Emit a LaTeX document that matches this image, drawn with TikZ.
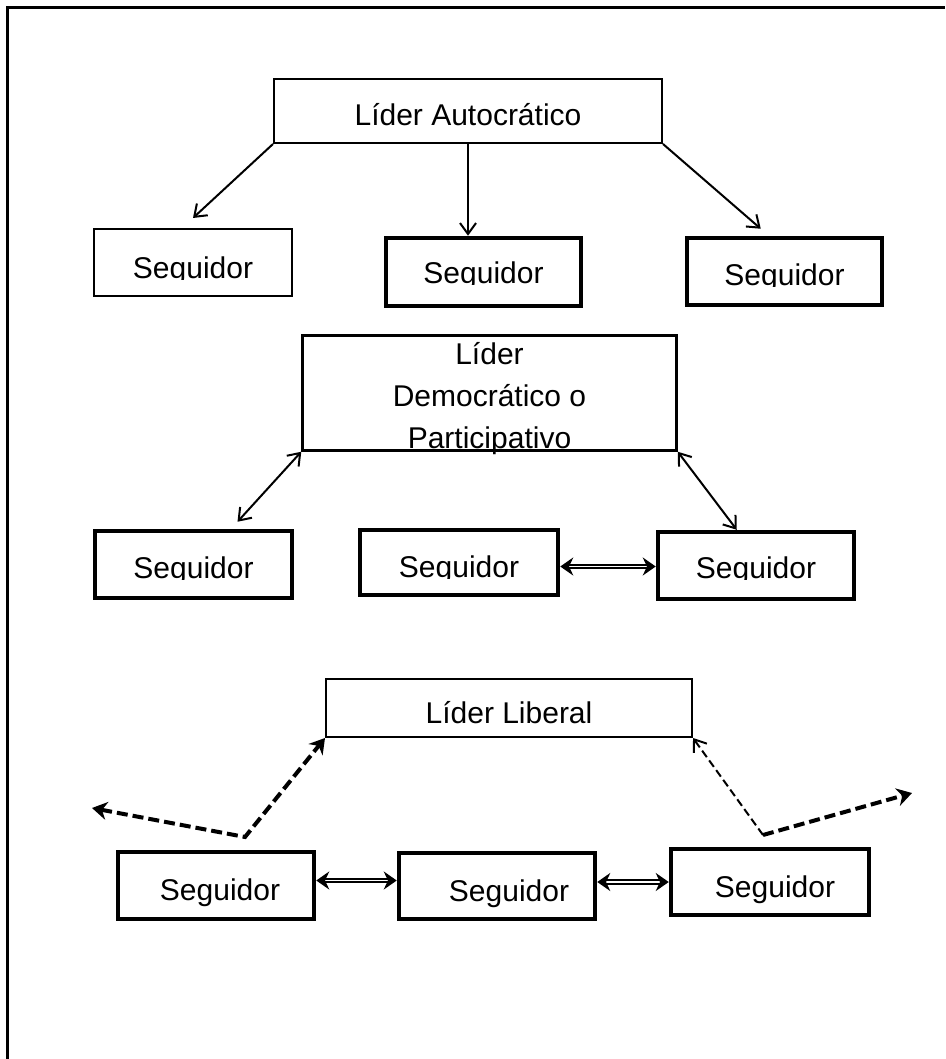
\documentclass[tikz,border=0pt]{standalone}
\usepackage{fontspec}
\setmainfont{Liberation Sans}
\usetikzlibrary{arrows.meta}
\newcommand\cutdesc[1]{\fill[white] ([xshift=-63pt,yshift=-1pt]#1.base) rectangle ([xshift=63pt,yshift=-9pt]#1.base);}
\begin{document}
\begin{tikzpicture}[x=1pt,y=-1pt,
  font=\fontsize{30}{42}\selectfont,
  box/.style={draw, rectangle, inner sep=0pt, align=center, text depth=0pt},
  lower/.style={text height=#1},
  thinbox/.style={box, line width=2pt},
  thickbox/.style={box, line width=4.5pt},
  frameline/.style={line width=3pt},
  onearrow/.style={line width=2pt, -{Straight Barb[length=11pt,width=16pt,line width=2pt]}},
  twoarrow/.style={line width=2pt, {Straight Barb[length=11pt,width=16pt,line width=2pt]}-{Straight Barb[length=11pt,width=16pt,line width=2pt]}},
  linkarrow/.style={line width=2pt, double=white, double distance=1.6pt, {Stealth[length=13pt,width=18pt]}-{Stealth[length=13pt,width=18pt]}},
  dthick/.style={line width=4pt, dash pattern=on 11pt off 5pt},
  dthin/.style={line width=2pt, dash pattern=on 8pt off 4pt},
  ]
\useasboundingbox (0,0) rectangle (945,1059);
\fill[white] (0,0) rectangle (945,1059);
% frame (only left and top sides are visible)
\draw[frameline] (7,1059) -- (7,8) -- (945,8);

% --- Autocratic leader ---
\node[thinbox, lower=29.5pt, minimum width=388pt, minimum height=64pt] (A) at (468,111) {Líder Autocrático};
\node[thinbox, lower=32.5pt, minimum width=198pt, minimum height=67pt] (s1) at (193,262.5) {Seguidor};
\node[thickbox, lower=23.5pt, minimum width=195pt, minimum height=68pt] (s2) at (483.5,272) {Seguidor};
\node[thickbox, lower=28.5pt, minimum width=195pt, minimum height=67pt] (s3) at (784.5,271.5) {Seguidor};
\cutdesc{s1}\cutdesc{s2}\cutdesc{s3}
\draw[onearrow] (A.south west) -- ([yshift=10pt]s1.north);
\draw[onearrow] (A.south) -- (A.south |- s2.north);
\draw[onearrow] (A.south east) -- ([xshift=76pt,yshift=7pt]s3.north west);

% --- Democratic leader ---
\node[box, line width=2.5pt, minimum width=374pt, minimum height=115pt,
  label={[align=center, yshift=-6pt, font=\fontsize{30}{42}\selectfont]center:Líder\\Democrático o\\Participativo}] (D) at (489.5,393) {};
\node[thickbox, lower=28.5pt, minimum width=197pt, minimum height=67pt] (d1) at (193.5,564.5) {Seguidor};
\node[thickbox, lower=30.5pt, minimum width=198pt, minimum height=65pt] (d2) at (459,562.5) {Seguidor};
\node[thickbox, lower=26.5pt, minimum width=196pt, minimum height=67pt] (d3) at (756,565.5) {Seguidor};
\cutdesc{d1}\cutdesc{d2}\cutdesc{d3}
\draw[twoarrow] (D.south west) -- ([xshift=44pt,yshift=7pt]d1.north);
\draw[twoarrow] (D.south east) -- ([xshift=81pt]d3.north west);
\draw[linkarrow] ([yshift=-4pt]d2.east) -- ([yshift=-4pt]d2.east -| d3.west);

% --- Liberal leader ---
\node[thinbox, lower=31.5pt, minimum width=366pt, minimum height=58pt] (Lb) at (509,708) {Líder Liberal};
\node[thickbox, lower=30.5pt, minimum width=196pt, minimum height=67pt] (l1) at (216,885.5) {\hspace*{8pt}Seguidor};
\node[thickbox, lower=30.5pt, minimum width=196pt, minimum height=66pt] (l2) at (497,886) {\hspace*{24pt}Seguidor};
\node[thickbox, lower=30.5pt, minimum width=198pt, minimum height=66pt] (l3) at (770,882) {\hspace*{10pt}Seguidor};
\draw[linkarrow] ([yshift=5pt]l1.east) -- ([yshift=5pt]l1.east -| l2.west);
\draw[linkarrow] ([yshift=4pt]l2.east) -- ([yshift=4pt]l2.east -| l3.west);

\coordinate (lv) at (245,837);
\coordinate (lt) at (92,808);
\coordinate (rv) at (763,835);
\coordinate (rt) at (912,793);
\draw[dthick, {Stealth[length=15pt,width=18pt]}-{Stealth[length=15pt,width=18pt]}] (lt) -- (lv) -- (Lb.south west);
\draw[dthin, -{Straight Barb[length=11pt,width=16pt,line width=2pt]}] (rv) -- (Lb.south east);
\draw[dthick, -{Stealth[length=15pt,width=18pt]}] (rv) -- (rt);
\end{tikzpicture}
\end{document}
